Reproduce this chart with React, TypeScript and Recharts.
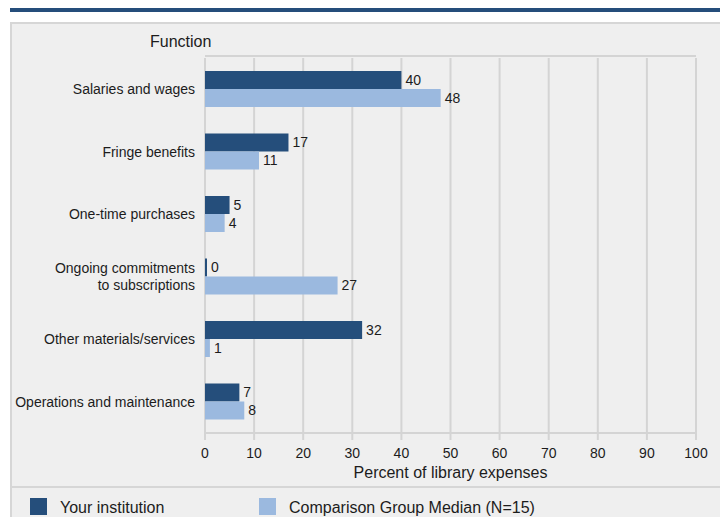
import React from 'react';
import {Bar, BarChart, CartesianGrid, LabelList, XAxis, YAxis} from 'recharts';

const categories = [
  'Salaries and wages',
  'Fringe benefits',
  'One-time purchases',
  'Ongoing commitments\nto subscriptions',
  'Other materials/services',
  'Operations and maintenance',
];
const yourInstitution = [40, 17, 5, 0, 32, 7];
const comparisonMedian = [48, 11, 4, 27, 1, 8];
const xTicks = [0, 10, 20, 30, 40, 50, 60, 70, 80, 90, 100];

const data = categories.map((name, i) => ({
  name,
  yours: yourInstitution[i],
  median: comparisonMedian[i],
}));

const DARK = '#254e7b';
const LIGHT = '#9bb9df';
const GRID = '#d4d4d4';
const TEXT = '#1c1c1c';
const FONT = '"Liberation Sans", Arial, sans-serif';

const CategoryTick = (props: any) => {
  const {x, y, payload} = props;
  const lines = String(payload.value).split('\n');
  const lh = 17;
  const start = -((lines.length - 1) * lh) / 2;
  return (
    <text x={x} y={y} textAnchor="end" fill={TEXT} fontSize={14} fontFamily={FONT}>
      {lines.map((l, i) => (
        <tspan key={i} x={x} dy={i === 0 ? start + 5 : lh}>{l}</tspan>
      ))}
    </text>
  );
};

export default function App() {
  return (
    <div style={{position: 'absolute', left: 0, top: 0, width: 720, height: 517, background: '#fff', overflow: 'hidden', fontFamily: FONT}}>
      <div style={{position: 'absolute', left: 10, top: 8, width: 710, height: 4, background: DARK}}/>
      <div style={{position: 'absolute', left: 10, top: 22, width: 720, height: 520, background: '#efefef', borderLeft: '2px solid #d6d6d6', borderTop: '2px solid #d6d6d6'}}/>
      <div style={{position: 'absolute', left: 10, top: 486, width: 720, height: 2, background: '#d6d6d6'}}/>
      <div style={{position: 'absolute', left: 150, top: 34, fontSize: 16, lineHeight: '16px', color: TEXT}}>Function</div>
      <div style={{position: 'absolute', left: 0, top: 0}}>
        <BarChart
          width={720}
          height={486}
          data={data}
          layout="vertical"
          barSize={18}
          barGap={0}
          margin={{top: 58, right: 24, left: 5, bottom: 3}}
        >
          <CartesianGrid
            stroke={GRID}
            strokeWidth={2}
            fill="none"
            horizontalCoordinatesGenerator={({offset}: any) => [offset.top - 2, offset.top + offset.height]}
          />
          <XAxis
            type="number"
            domain={[0, 100]}
            ticks={xTicks}
            interval={0}
            axisLine={false}
            tickLine={{stroke: GRID, strokeWidth: 2}}
            tickSize={7}
            tickMargin={8}
            height={50}
            tick={{fill: TEXT, fontSize: 14, fontFamily: FONT}}
            label={{value: 'Percent of library expenses', position: 'insideBottom', offset: 5, fill: TEXT, fontSize: 16, fontFamily: FONT}}
          />
          <YAxis
            type="category"
            dataKey="name"
            width={200}
            axisLine={false}
            tickLine={false}
            tickSize={0}
            tickMargin={10}
            interval={0}
            tick={<CategoryTick/>}
          />
          <Bar dataKey="yours" fill={DARK} isAnimationActive={false} minPointSize={2}>
            <LabelList dataKey="yours" position="right" offset={4} fill={TEXT} fontSize={14} fontFamily={FONT}/>
          </Bar>
          <Bar dataKey="median" fill={LIGHT} isAnimationActive={false}>
            <LabelList dataKey="median" position="right" offset={4} fill={TEXT} fontSize={14} fontFamily={FONT}/>
          </Bar>
        </BarChart>
      </div>
      <div style={{position: 'absolute', left: 30, top: 498, width: 17, height: 17, background: DARK}}/>
      <div style={{position: 'absolute', left: 60, top: 500, fontSize: 16, lineHeight: '16px', color: TEXT}}>Your institution</div>
      <div style={{position: 'absolute', left: 259, top: 498, width: 17, height: 17, background: LIGHT}}/>
      <div style={{position: 'absolute', left: 289, top: 500, fontSize: 16, lineHeight: '16px', color: TEXT}}>Comparison Group Median (N=15)</div>
    </div>
  );
}
